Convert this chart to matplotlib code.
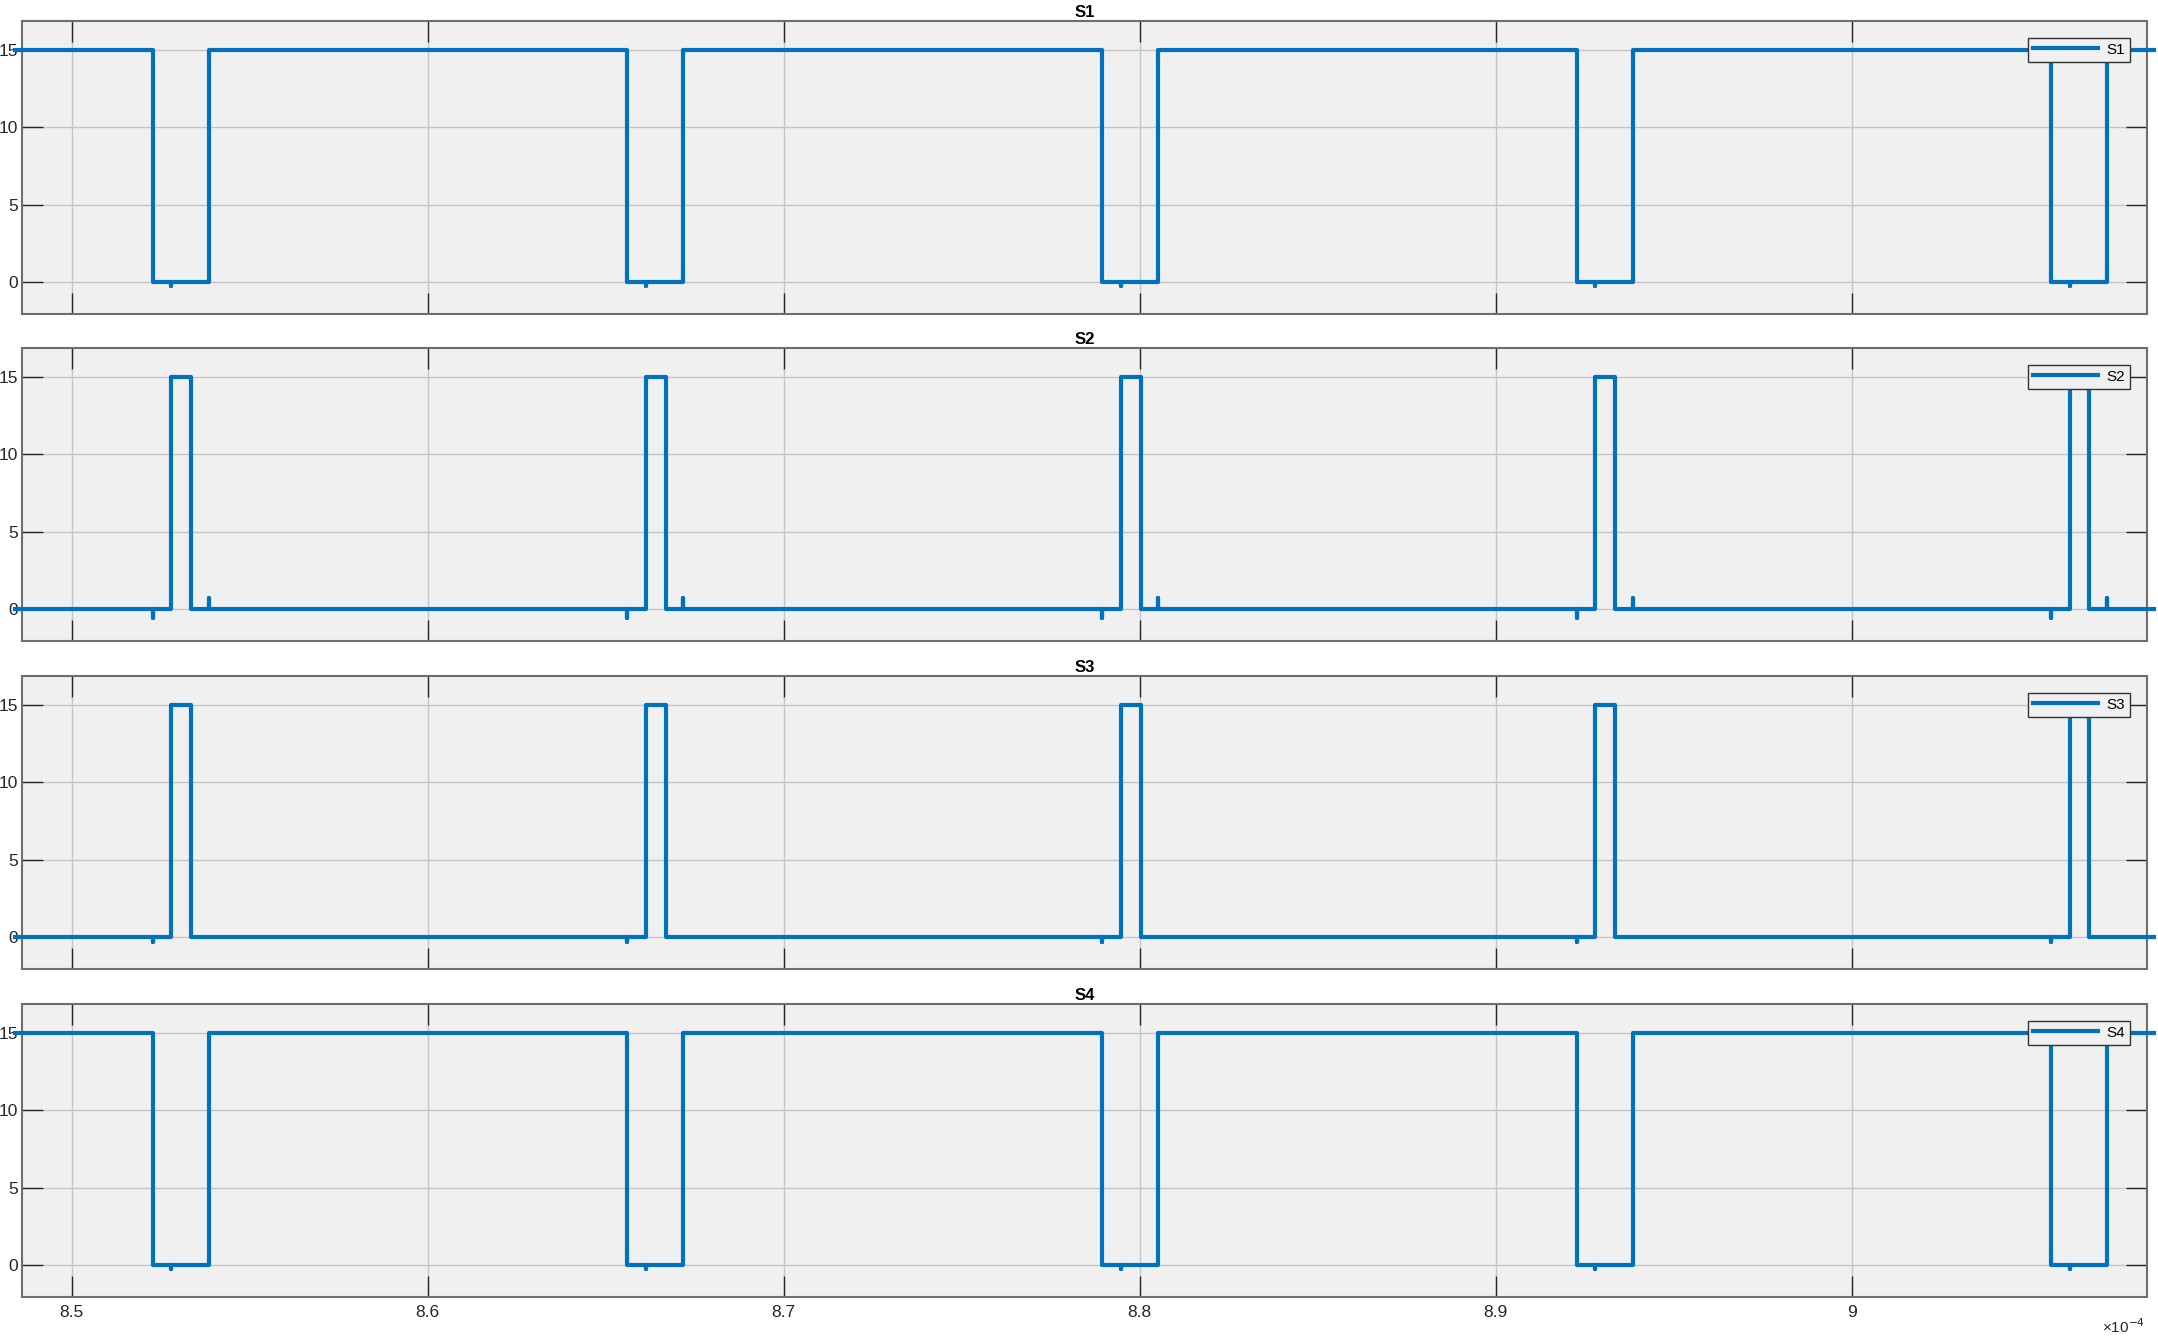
import numpy as np
import matplotlib
matplotlib.use("Agg")
import matplotlib.pyplot as plt

plt.rcParams["font.family"] = ["Liberation Sans", "DejaVu Sans"]

# ── Data (time in units of 1e-4 s) ───────────────────────────────────
t_start, t_end = 8.484, 9.085

# S1 / S4: high, drop to 0 for each pulse window
s1_fall = [8.5228, 8.6561, 8.7894, 8.9228, 9.0561]
s1_rise = [8.5385, 8.6718, 8.8051, 8.9385, 9.0718]
# S2 / S3: low, rise to 15 inside the S1 off-window
s2_rise = [8.5280, 8.6613, 8.7947, 8.9280, 9.0613]
s2_fall = [8.5336, 8.6669, 8.8003, 8.9336, 9.0667]

gate_high = 15.0

# small switching glitches seen on the flat parts
s1_glitch_t = s2_rise
s1_glitch_v = [-0.25] * 5
s2_glitch_t = s1_fall + s1_rise
s2_glitch_v = [-0.6] * 5 + [0.7] * 5
s3_glitch_t = s1_fall
s3_glitch_v = [-0.35] * 5

names = ["S1", "S2", "S3", "S4"]
xticks = [8.5, 8.6, 8.7, 8.8, 8.9, 9.0]
xticklabels = ["8.5", "8.6", "8.7", "8.8", "8.9", "9"]
yticks = [0, 5, 10, 15]


def build_wave(base, level, on, off, g_t, g_v):
    """Turn edge times + glitches into step-line vertices."""
    events = [(t, "edge", level) for t in on]
    events += [(t, "edge", base) for t in off]
    events += [(t, "glitch", v) for t, v in zip(g_t, g_v)]
    events.sort(key=lambda e: e[0])
    ts, vs = [t_start], [base]
    cur = base
    for t, kind, v in events:
        if kind == "edge":
            ts += [t, t]
            vs += [cur, v]
            cur = v
        else:
            ts += [t, t, t]
            vs += [cur, cur + v, cur]
    ts.append(t_end)
    vs.append(cur)
    return np.array(ts), np.array(vs)


waves = [
    build_wave(gate_high, 0.0, s1_fall, s1_rise, s1_glitch_t, s1_glitch_v),
    build_wave(0.0, gate_high, s2_rise, s2_fall, s2_glitch_t, s2_glitch_v),
    build_wave(0.0, gate_high, s2_rise, s2_fall, s3_glitch_t, s3_glitch_v),
    build_wave(gate_high, 0.0, s1_fall, s1_rise, s1_glitch_t, s1_glitch_v),
]

# ── Figure ────────────────────────────────────────────────────────────
fig = plt.figure(figsize=(21.58, 13.40), dpi=100)
left, width, height = 22 / 2158, (2147 - 22) / 2158, 293 / 1340
bottoms = [0.7657, 0.5216, 0.2769, 0.0321]

for i, (name, (t, v)) in enumerate(zip(names, waves)):
    ax = fig.add_axes([left, bottoms[i], width, height])
    ax.set_facecolor("#f0f0f0")
    ax.plot(t, v, color="#0072BD", lw=3.0, label=name, clip_on=False,
            zorder=3)
    ax.set_xlim(8.486, 9.083)
    ax.set_ylim(-2.07, 16.87)
    ax.set_xticks(xticks)
    ax.set_yticks(yticks)
    if i == 3:
        ax.set_xticklabels(xticklabels)
    else:
        ax.set_xticklabels([])
    ax.grid(True, color="#c4c4c4", lw=1.0)
    ax.set_axisbelow(True)
    ax.tick_params(direction="in", length=15, width=1.0, color="#262626",
                   top=True, right=True, labelsize=12.5,
                   labelcolor="#262626")
    ax.tick_params(axis="x", pad=6)
    ax.tick_params(axis="y", pad=3)
    for sp in ax.spines.values():
        sp.set_color("#6e6e6e")
        sp.set_linewidth(1.5)
    ax.set_title(name, fontsize=12, fontweight="bold", pad=3)
    leg = ax.legend(loc="upper right", fontsize=11, handlelength=4.2,
                    fancybox=False, framealpha=1, edgecolor="#333333",
                    facecolor="#f0f0f0", borderpad=0.32,
                    borderaxespad=1.1, handletextpad=0.6)
    leg.get_frame().set_linewidth(1.0)
    leg.set_zorder(5)

fig.text(0.994, 0.003, r"×10$^{-4}$", ha="right", va="bottom",
         fontsize=11, color="#262626")

fig.savefig("out.png", dpi=100)
